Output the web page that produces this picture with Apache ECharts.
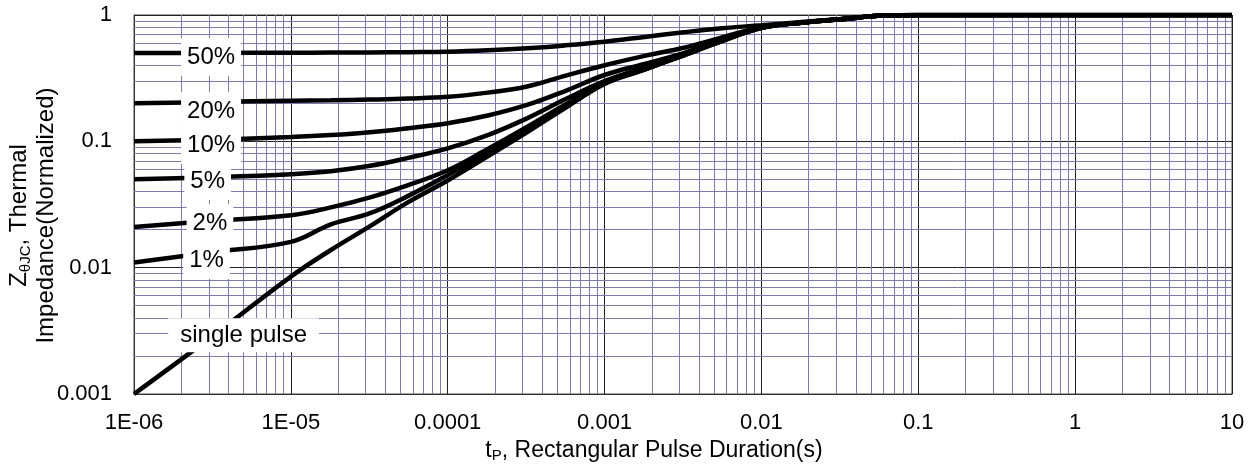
<!DOCTYPE html>
<html>
<head>
<meta charset="utf-8">
<script src="https://cdn.jsdelivr.net/npm/echarts@6/dist/echarts.min.js"></script>
<style>
  html, body { margin: 0; padding: 0; background: #fff; }
  #chart { width: 1258px; height: 472px; }
</style>
</head>
<body>
<div id="chart"></div>
<script>
var dom = document.getElementById("chart");
var myChart = echarts.init(dom);

// pulse duration (s), shared by every curve
var tPulse = [1e-6, 3.2e-6, 1e-5, 1.8e-5, 3.2e-5, 5.6e-5, 1e-4, 1.8e-4, 3.2e-4, 5.6e-4, 1e-3,
  1.8e-3, 3.2e-3, 5.6e-3, 1e-2, 1.8e-2, 3.2e-2, 6e-2, 0.1, 10];

// normalized thermal impedance
var duty50 = [0.5, 0.501, 0.503, 0.504, 0.505, 0.508, 0.512, 0.525, 0.545, 0.575, 0.615,
  0.67, 0.73, 0.785, 0.83, 0.88, 0.93, 0.99, 1, 1];
var duty20 = [0.2, 0.205, 0.21, 0.211, 0.214, 0.218, 0.225, 0.243, 0.272, 0.33, 0.40,
  0.475, 0.55, 0.665, 0.80, 0.87, 0.925, 0.99, 1, 1];
var duty10 = [0.1, 0.103, 0.108, 0.112, 0.118, 0.127, 0.139, 0.16, 0.194, 0.25, 0.335,
  0.41, 0.50, 0.635, 0.80, 0.87, 0.925, 0.99, 1, 1];
var duty5 = [0.05, 0.052, 0.055, 0.058, 0.064, 0.074, 0.088, 0.112, 0.152, 0.215, 0.30,
  0.385, 0.49, 0.63, 0.795, 0.87, 0.925, 0.99, 1, 1];
var duty2 = [0.021, 0.0235, 0.026, 0.030, 0.036, 0.045, 0.059, 0.087, 0.13, 0.195, 0.29,
  0.375, 0.485, 0.625, 0.79, 0.87, 0.925, 0.99, 1, 1];
var duty1 = [0.011, 0.0133, 0.016, 0.022, 0.027, 0.037, 0.054, 0.081, 0.124, 0.19, 0.288,
  0.37, 0.48, 0.62, 0.79, 0.87, 0.925, 0.99, 1, 1];
var single = [0.001, 0.0029, 0.0085, 0.0138, 0.0213, 0.033, 0.049, 0.076, 0.118, 0.183, 0.285,
  0.37, 0.48, 0.62, 0.79, 0.87, 0.925, 0.99, 1, 1];

var curves = [duty50, duty20, duty10, duty5, duty2, duty1, single];

// curve labels
var labelTexts = ['50%', '20%', '10%', '5%', '2%', '1%', 'single pulse'];
var labelT = [3.1e-6, 3.1e-6, 3.1e-6, 2.95e-6, 3.05e-6, 2.9e-6, 5e-6];
var labelV = [0.465, 0.174, 0.0935, 0.0485, 0.0226, 0.0115, 0.00292];

// tick labels
var xTickLabels = { '-6': '1E-06', '-5': '1E-05', '-4': '0.0001', '-3': '0.001', '-2': '0.01', '-1': '0.1', '0': '1', '1': '10' };
var yTickLabels = { '-3': '0.001', '-2': '0.01', '-1': '0.1', '0': '1' };

var font = 'Liberation Sans, Arial, sans-serif';

// minor log grid lines (2..9 in every decade)
var gridSegs = [];
for (var d = -6; d < 1; d++) {
  for (var k = 2; k <= 9; k++) {
    gridSegs.push({ coords: [[k * Math.pow(10, d), 0.001], [k * Math.pow(10, d), 1]] });
  }
}
for (var d2 = -3; d2 < 0; d2++) {
  for (var k2 = 2; k2 <= 9; k2++) {
    gridSegs.push({ coords: [[1e-6, k2 * Math.pow(10, d2)], [10, k2 * Math.pow(10, d2)]] });
  }
}

var series = [{
  type: 'lines',
  coordinateSystem: 'cartesian2d',
  z: 1,
  silent: true,
  animation: false,
  lineStyle: { color: '#7c7cac', width: 1, opacity: 1 },
  data: gridSegs
}];

curves.forEach(function (vals) {
  series.push({
    type: 'line',
    z: 3,
    smooth: 0.4,
    showSymbol: false,
    symbol: 'none',
    lineStyle: { color: '#000', width: 4.5 },
    data: tPulse.map(function (t, i) { return [t, vals[i]]; })
  });
});

series.push({
  type: 'scatter',
  z: 10,
  symbolSize: 0,
  silent: true,
  itemStyle: { opacity: 1, color: '#000' },
  data: labelTexts.map(function (txt, i) {
    return {
      value: [labelT[i], labelV[i]],
      label: {
        formatter: txt,
        padding: txt === 'single pulse' ? [4, 12, 4, 12] : [6, 6, 6, 6]
      }
    };
  }),
  label: {
    show: true,
    position: 'inside',
    color: '#000',
    opacity: 1,
    textBorderWidth: 0,
    fontFamily: font,
    fontSize: 24,
    lineHeight: 26,
    backgroundColor: '#fff'
  }
});

var option = {
  animation: false,
  backgroundColor: '#fff',
  grid: {
    left: 134, right: 26, top: 15, bottom: 78,
    outerBoundsMode: 'none',
    containLabel: false,
    show: true, borderColor: '#444', borderWidth: 1
  },
  xAxis: {
    type: 'log',
    logBase: 10,
    min: 1e-6,
    max: 10,
    axisLine: { show: true, lineStyle: { color: '#333' } },
    axisTick: { show: false },
    splitLine: { show: true, lineStyle: { color: '#222', width: 1 } },
    axisLabel: {
      color: '#000', fontFamily: font, fontSize: 22, margin: 18,
      formatter: function (v) { return xTickLabels[String(Math.round(Math.log10(v)))]; }
    },
    name: '{n|t}{s|P}{n|, Rectangular Pulse Duration(s)}',
    nameLocation: 'middle',
    nameGap: 43,
    nameTextStyle: {
      padding: [0, 58, 0, 0],
      rich: {
        n: { fontFamily: font, fontSize: 23, color: '#000', lineHeight: 26 },
        s: { fontFamily: font, fontSize: 15, color: '#000', lineHeight: 15, verticalAlign: 'bottom' }
      }
    }
  },
  yAxis: {
    type: 'log',
    logBase: 10,
    min: 0.001,
    max: 1,
    axisLine: { show: true, lineStyle: { color: '#333' } },
    axisTick: { show: false },
    splitLine: { show: true, lineStyle: { color: '#222', width: 1 } },
    axisLabel: {
      color: '#000', fontFamily: font, fontSize: 22, margin: 22,
      formatter: function (v) { return yTickLabels[String(Math.round(Math.log10(v)))]; }
    },
    name: '{n|Z}{s|θJC}{n|, Thermal}\n{n|Impedance(Normalized)}',
    nameLocation: 'middle',
    nameRotate: 90,
    nameGap: 74,
    nameMoveOverlap: false,
    nameTextStyle: {
      padding: [0, 22, 0, 0],
      rich: {
        n: { fontFamily: font, fontSize: 24, color: '#000', lineHeight: 27 },
        s: { fontFamily: font, fontSize: 15, color: '#000', lineHeight: 15, verticalAlign: 'bottom' }
      }
    }
  },
  series: series
};
myChart.setOption(option);
</script>
</body>
</html>
